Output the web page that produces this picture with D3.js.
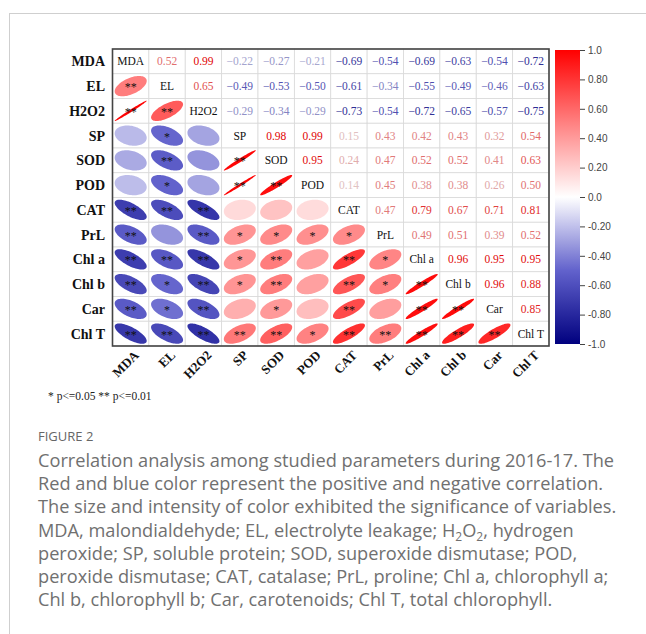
<!DOCTYPE html>
<html>
<head>
<meta charset="utf-8">
<script src="https://cdn.jsdelivr.net/npm/d3@7"></script>
<style>
  body { margin: 0; background: #fff; }
  svg { display: block; }
</style>
</head>
<body>
<div id="chart"></div>
<script>
var vars = ["MDA", "EL", "H2O2", "SP", "SOD", "POD", "CAT", "PrL", "Chl a", "Chl b", "Car", "Chl T"];

// upper triangle, row i holds r(i, j) for j > i
var upper = [
  [0.52, 0.99, -0.22, -0.27, -0.21, -0.69, -0.54, -0.69, -0.63, -0.54, -0.72],
  [0.65, -0.49, -0.53, -0.50, -0.61, -0.34, -0.55, -0.49, -0.46, -0.63],
  [-0.29, -0.34, -0.29, -0.73, -0.54, -0.72, -0.65, -0.57, -0.75],
  [0.98, 0.99, 0.15, 0.43, 0.42, 0.43, 0.32, 0.54],
  [0.95, 0.24, 0.47, 0.52, 0.52, 0.41, 0.63],
  [0.14, 0.45, 0.38, 0.38, 0.26, 0.50],
  [0.47, 0.79, 0.67, 0.71, 0.81],
  [0.49, 0.51, 0.39, 0.52],
  [0.96, 0.95, 0.95],
  [0.96, 0.88],
  [0.85]
];

// lower triangle significance, row i holds stars for j < i
var stars = [
  [],
  ["**"],
  ["**", "**"],
  ["", "*", ""],
  ["", "**", "", "**"],
  ["", "*", "", "**", "**"],
  ["**", "**", "**", "", "", ""],
  ["**", "", "**", "*", "*", "*", "*"],
  ["**", "**", "**", "*", "**", "", "**", "*"],
  ["**", "*", "**", "*", "**", "", "**", "*", "**"],
  ["**", "*", "**", "", "*", "", "**", "", "**", "**"],
  ["**", "**", "**", "**", "**", "*", "**", "**", "**", "**", "**"]
];

var barTicks = [1, 0.8, 0.6, 0.4, 0.2, 0, -0.2, -0.4, -0.6, -0.8, -1];
var barLabels = ["1.0", "0.80", "0.60", "0.40", "0.20", "0.0", "-0.20", "-0.40", "-0.60", "-0.80", "-1.0"];

var captionLines = [
  "Correlation analysis among studied parameters during 2016-17. The",
  "Red and blue color represent the positive and negative correlation.",
  "The size and intensity of color exhibited the significance of variables.",
  "MDA, malondialdehyde; EL, electrolyte leakage; H|2|O|2|, hydrogen",
  "peroxide; SP, soluble protein; SOD, superoxide dismutase; POD,",
  "peroxide dismutase; CAT, catalase; PrL, proline; Chl a, chlorophyll a;",
  "Chl b, chlorophyll b; Car, carotenoids; Chl T, total chlorophyll."
];

// full matrix
var n = vars.length;
var cells = [];
for (var i = 0; i < n; i++) {
  for (var j = 0; j < n; j++) {
    var r = i == j ? 1 : (i < j ? upper[i][j - i - 1] : upper[j][i - j - 1]);
    cells.push({ i: i, j: j, r: r, star: i > j ? stars[i][j] : "" });
  }
}

var W = 646, H = 634;
var svg = d3.select("#chart").append("svg").attr("width", W).attr("height", H);

// frame (open on the right and bottom)
svg.append("rect")
  .attr("x", 9.5).attr("y", 13.5)
  .attr("width", 700).attr("height", 700)
  .attr("fill", "none").attr("stroke", "#cfcfcf").attr("stroke-width", 1);

var color = d3.scaleLinear()
  .domain([-1, -0.5, 0, 0.5, 1])
  .range(["#00007f", "#6262cc", "#ffffff", "#ff8282", "#ff0000"]);

var x = d3.scaleBand().domain(d3.range(n)).range([112.5, 549]);
var y = d3.scaleBand().domain(d3.range(n)).range([49, 346]);
var cw = x.bandwidth(), ch = y.bandwidth();
var serif = "'Liberation Serif', 'Times New Roman', serif";

var grid = svg.append("g");
grid.selectAll("rect.cell")
  .data(cells)
  .enter().append("rect")
    .attr("class", "cell")
    .attr("x", function(d) { return x(d.j); })
    .attr("y", function(d) { return y(d.i); })
    .attr("width", cw).attr("height", ch)
    .attr("fill", "#fff").attr("stroke", "#d9d9d9").attr("stroke-width", 0.8);

// ellipses in the lower triangle
var lower = cells.filter(function(d) { return d.i > d.j; });
var ellipsePath = function(r) {
  var dd = Math.acos(Math.max(-1, Math.min(1, r)));
  var sx = cw * 0.44, sy = ch * 0.41;
  var pts = d3.range(0, 2 * Math.PI + 0.01, Math.PI / 40).map(function(t) {
    return [sx * Math.cos(t + dd / 2), -sy * Math.cos(t - dd / 2)];
  });
  return d3.line()(pts) + "Z";
};
grid.selectAll("path.ell")
  .data(lower)
  .enter().append("path")
    .attr("class", "ell")
    .attr("transform", function(d) { return "translate(" + (x(d.j) + cw / 2) + "," + (y(d.i) + ch / 2) + ")"; })
    .attr("d", function(d) { return ellipsePath(d.r); })
    .attr("fill", function(d) { return color(d.r); });

grid.selectAll("text.star")
  .data(lower.filter(function(d) { return d.star; }))
  .enter().append("text")
    .attr("class", "star")
    .attr("x", function(d) { return x(d.j) + cw / 2; })
    .attr("y", function(d) { return y(d.i) + ch / 2 + 5; })
    .attr("text-anchor", "middle")
    .style("font-family", serif).style("font-size", "12px")
    .attr("fill", "#111")
    .text(function(d) { return d.star; });

// numbers in the upper triangle
grid.selectAll("text.num")
  .data(cells.filter(function(d) { return d.i < d.j; }))
  .enter().append("text")
    .attr("class", "num")
    .attr("x", function(d) { return x(d.j) + cw / 2; })
    .attr("y", function(d) { return y(d.i) + ch / 2 + 4; })
    .attr("text-anchor", "middle")
    .style("font-family", serif).style("font-size", "11.5px")
    .attr("fill", function(d) { return d3.color(color(d.r)).darker(0.35); })
    .text(function(d) { return d3.format(".2f")(d.r); });

// diagonal names
grid.selectAll("text.diag")
  .data(d3.range(n))
  .enter().append("text")
    .attr("class", "diag")
    .attr("x", function(d) { return x(d) + cw / 2; })
    .attr("y", function(d) { return y(d) + ch / 2 + 4; })
    .attr("text-anchor", "middle")
    .style("font-family", serif).style("font-size", "11.5px")
    .attr("fill", "#111")
    .text(function(d) { return vars[d]; });

// outer border
svg.append("rect")
  .attr("x", 112.5).attr("y", 49)
  .attr("width", 549 - 112.5).attr("height", 346 - 49)
  .attr("fill", "none").attr("stroke", "#444").attr("stroke-width", 1.6);

// row labels
svg.selectAll("text.rowlab")
  .data(d3.range(n))
  .enter().append("text")
    .attr("class", "rowlab")
    .attr("x", 105)
    .attr("y", function(d) { return y(d) + ch / 2 + 5; })
    .attr("text-anchor", "end")
    .style("font-family", serif).style("font-size", "14px").style("font-weight", "bold")
    .attr("fill", "#111")
    .text(function(d) { return vars[d]; });

// column labels
svg.selectAll("text.collab")
  .data(d3.range(n))
  .enter().append("text")
    .attr("class", "collab")
    .attr("transform", function(d) { return "translate(" + (x(d) + cw / 2 + 9) + ",356) rotate(-45)"; })
    .attr("text-anchor", "end")
    .style("font-family", serif).style("font-size", "13px").style("font-weight", "bold")
    .attr("fill", "#111")
    .text(function(d) { return vars[d]; });

// colour bar
var defs = svg.append("defs");
var grad = defs.append("linearGradient").attr("id", "cbar")
  .attr("x1", 0).attr("y1", 1).attr("x2", 0).attr("y2", 0);
d3.range(0, 1.0001, 0.05).forEach(function(t) {
  grad.append("stop").attr("offset", t).attr("stop-color", color(-1 + 2 * t));
});
var yb = d3.scaleLinear().domain([-1, 1]).range([344, 50]);
svg.append("rect")
  .attr("x", 555).attr("y", yb(1))
  .attr("width", 25).attr("height", yb(-1) - yb(1))
  .attr("fill", "url(#cbar)");
var bar = svg.append("g").attr("transform", "translate(580,0)")
  .call(d3.axisRight(yb).tickValues(barTicks).tickSize(5).tickPadding(3)
    .tickFormat(function(d, k) { return barLabels[k]; }));
bar.select(".domain").remove();
bar.selectAll("line").attr("stroke", "#444");
bar.selectAll("text")
  .style("font-family", "'Liberation Sans', Arial, sans-serif").style("font-size", "10px")
  .attr("fill", "#444");

// significance note
svg.append("text")
  .attr("x", 48).attr("y", 400)
  .style("font-family", serif).style("font-size", "11.5px")
  .attr("fill", "#222")
  .text("* p<=0.05  ** p<=0.01");

// caption
var sans = "'Open Sans', 'Noto Sans', sans-serif";
svg.append("text")
  .attr("x", 38).attr("y", 441)
  .style("font-family", sans).style("font-size", "13px")
  .attr("fill", "#666")
  .text("FIGURE 2");

var cap = svg.append("g");
captionLines.forEach(function(line, k) {
  var t = cap.append("text")
    .attr("x", 38).attr("y", 467 + k * 23.2)
    .style("font-family", sans).style("font-size", "18.2px")
    .attr("fill", "#707070");
  var parts = line.split("|");
  parts.forEach(function(part, p) {
    var s = t.append("tspan").text(part);
    if (p % 2 == 1) s.attr("dy", 4).style("font-size", "12px");
    else if (p > 0) s.attr("dy", -4);
  });
});
</script>
</body>
</html>
